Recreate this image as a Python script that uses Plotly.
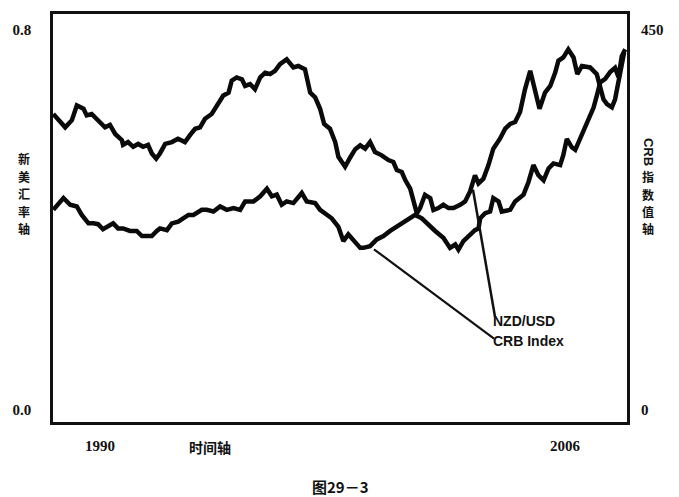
import plotly.graph_objects as go

# ---------------- data ----------------
nzd_years = [1988.39, 1988.56, 1988.80, 1989.03, 1989.20, 1989.43, 1989.54, 1989.71, 1989.89, 1990.17,
             1990.34, 1990.52, 1990.75, 1990.79, 1990.96, 1991.14, 1991.31, 1991.48, 1991.65, 1991.78,
             1991.93, 1992.06, 1992.24, 1992.47, 1992.68, 1992.92, 1993.10, 1993.27, 1993.44, 1993.61,
             1993.84, 1994.07, 1994.24, 1994.42, 1994.53, 1994.70, 1994.88, 1994.99, 1995.16, 1995.33,
             1995.51, 1995.68, 1995.85, 1996.02, 1996.19, 1996.42, 1996.65, 1996.82, 1997.05, 1997.23,
             1997.40, 1997.57, 1997.71, 1997.91, 1998.09, 1998.20, 1998.43, 1998.60, 1998.78, 1998.95,
             1999.12, 1999.29, 1999.46, 1999.69, 1999.92, 2000.09, 2000.21, 2000.38, 2000.50, 2000.67,
             2000.78, 2000.90, 2001.01, 2001.18, 2001.36, 2001.47, 2001.64, 2001.81, 2001.99, 2002.16,
             2002.39, 2002.56, 2002.73, 2002.90, 2003.02, 2003.19, 2003.36, 2003.53, 2003.76, 2003.94,
             2004.11, 2004.28, 2004.45, 2004.62, 2004.80, 2004.97, 2005.12, 2005.31, 2005.49, 2005.66,
             2005.77, 2005.94, 2006.11, 2006.29, 2006.42, 2006.58, 2006.86, 2007.09, 2007.21, 2007.32,
             2007.44, 2007.61, 2007.72, 2007.84, 2007.95, 2008.03]
nzd_values = [0.623, 0.610, 0.595, 0.610, 0.641, 0.634, 0.620, 0.623, 0.613, 0.595,
              0.600, 0.581, 0.568, 0.558, 0.564, 0.554, 0.560, 0.554, 0.558, 0.540,
              0.529, 0.540, 0.560, 0.564, 0.571, 0.564, 0.579, 0.592, 0.595, 0.613,
              0.623, 0.648, 0.662, 0.668, 0.693, 0.700, 0.696, 0.682, 0.686, 0.675,
              0.700, 0.710, 0.707, 0.714, 0.728, 0.738, 0.721, 0.724, 0.717, 0.668,
              0.658, 0.634, 0.602, 0.592, 0.564, 0.533, 0.512, 0.531, 0.549, 0.557,
              0.550, 0.564, 0.543, 0.536, 0.526, 0.522, 0.505, 0.501, 0.484, 0.466,
              0.439, 0.414, 0.425, 0.453, 0.446, 0.421, 0.425, 0.432, 0.425, 0.425,
              0.432, 0.439, 0.460, 0.494, 0.477, 0.487, 0.515, 0.550, 0.571, 0.592,
              0.602, 0.606, 0.627, 0.675, 0.714, 0.672, 0.634, 0.668, 0.682, 0.710,
              0.735, 0.742, 0.759, 0.742, 0.707, 0.724, 0.721, 0.707, 0.682, 0.654,
              0.644, 0.637, 0.654, 0.689, 0.724, 0.752]

crb_years = [1988.39, 1988.74, 1988.97, 1989.20, 1989.37, 1989.60, 1989.77, 1989.93, 1990.10, 1990.28,
             1990.45, 1990.62, 1990.79, 1991.03, 1991.26, 1991.44, 1991.61, 1991.78, 1991.95, 1992.06,
             1992.30, 1992.47, 1992.69, 1992.87, 1993.04, 1993.21, 1993.50, 1993.67, 1993.90, 1994.13,
             1994.36, 1994.59, 1994.82, 1994.99, 1995.28, 1995.51, 1995.74, 1995.91, 1996.08, 1996.25,
             1996.42, 1996.65, 1996.94, 1997.11, 1997.40, 1997.57, 1997.74, 1997.97, 1998.20, 1998.37,
             1998.54, 1998.78, 1998.95, 1999.06, 1999.29, 1999.52, 1999.75, 1999.98, 2000.21, 2000.44,
             2000.61, 2000.84, 2001.07, 2001.30, 2001.53, 2001.81, 2002.04, 2002.22, 2002.33, 2002.50,
             2002.67, 2002.90, 2003.02, 2003.08, 2003.25, 2003.42, 2003.53, 2003.71, 2003.82, 2004.11,
             2004.28, 2004.57, 2004.74, 2004.91, 2005.08, 2005.26, 2005.43, 2005.60, 2005.83, 2005.94,
             2006.06, 2006.23, 2006.35, 2006.52, 2006.69, 2006.86, 2006.98, 2007.09, 2007.21, 2007.38,
             2007.55, 2007.72, 2007.84, 2007.95, 2008.07]
crb_values = [237, 251, 243, 241, 231, 221, 221, 220, 214, 217,
              221, 215, 215, 212, 212, 206, 206, 206, 212, 215,
              213, 221, 223, 227, 231, 231, 237, 237, 235, 241,
              237, 239, 237, 247, 247, 253, 262, 253, 255, 243,
              247, 245, 257, 247, 245, 237, 233, 227, 217, 200,
              208, 198, 192, 192, 194, 202, 206, 212, 217, 223,
              227, 231, 227, 219, 212, 204, 192, 196, 190, 200,
              206, 213, 215, 227, 233, 235, 251, 247, 235, 237,
              247, 255, 270, 290, 278, 272, 286, 292, 290, 302,
              321, 311, 308, 321, 337, 347, 358, 372, 388, 392,
              400, 405, 394, 419, 427]

x_tick_vals = [1990, 2006]
x_tick_text = ["1990", "2006"]
left_tick_vals = [0.0, 0.8]
left_tick_text = ["0.0", "0.8"]
right_tick_vals = [0, 450]
right_tick_text = ["0", "450"]

series_names = ["NZD/USD", "CRB Index"]
left_title = "新美汇率轴"
right_title_latin = "CRB"
right_title_cjk = "指数值轴"
x_title = "时间轴"
caption = "图29－3"

# ---------------- figure ----------------
# The page body has an 8px margin, so the figure is sized to fill the rest of the window.
PAGE_MARGIN = 8
WIN_W, WIN_H = 679, 497
W, H = WIN_W - PAGE_MARGIN, WIN_H - PAGE_MARGIN
# plot-area edges in window pixels
L, R, T, B = 53, 627, 11, 422

def px(x):
    return (x - L) / (R - L)

def py(y):
    return (B - y) / (B - T)

serif_bold = dict(family="Liberation Serif, Times New Roman, serif", size=15, color="#111", weight="bold")
cjk_bold = dict(family="Noto Sans CJK SC", size=12, color="#111", weight="bold")

fig = go.Figure()
fig.add_trace(go.Scatter(x=nzd_years, y=nzd_values, mode="lines", name=series_names[0],
                         line=dict(color="#0a0a0a", width=4.5), yaxis="y"))
fig.add_trace(go.Scatter(x=crb_years, y=crb_values, mode="lines", name=series_names[1],
                         line=dict(color="#0a0a0a", width=4.5), yaxis="y2"))

fig.update_layout(
    width=W, height=H,
    margin=dict(l=L - PAGE_MARGIN, r=WIN_W - R, t=T - PAGE_MARGIN, b=WIN_H - B),
    paper_bgcolor="white", plot_bgcolor="white",
    showlegend=False,
    xaxis=dict(range=[1988.38, 2008.13], tickvals=x_tick_vals, ticktext=x_tick_text,
               showgrid=False, zeroline=False, showline=True, mirror=True,
               linecolor="#111", linewidth=2.5, ticks="", tickfont=serif_bold,
               ticklabelstandoff=8),
    yaxis=dict(range=[-0.025, 0.8334], tickvals=left_tick_vals, ticktext=left_tick_text,
               showgrid=False, zeroline=False, showline=True, mirror=True,
               linecolor="#111", linewidth=2.5, ticks="", tickfont=serif_bold,
               ticklabelstandoff=16),
    yaxis2=dict(range=[-14.1, 468.8], tickvals=right_tick_vals, ticktext=right_tick_text,
                overlaying="y", side="right", showgrid=False, zeroline=False,
                showline=False, ticks="", tickfont=serif_bold, ticklabelstandoff=13),
)

# pointer lines
fig.add_shape(type="line", xref="paper", yref="paper",
              x0=px(473), y0=py(188), x1=px(495), y1=py(316),
              line=dict(color="#111", width=2.5))
fig.add_shape(type="line", xref="paper", yref="paper",
              x0=px(374), y0=py(248), x1=px(494), y1=py(338),
              line=dict(color="#111", width=2.2))

label_font = dict(family="Liberation Sans, Arial, sans-serif", size=14, color="#111", weight="bold")
fig.add_annotation(x=px(491), y=py(320), xref="paper", yref="paper", text=series_names[0],
                   showarrow=False, xanchor="left", yanchor="middle", font=label_font)
fig.add_annotation(x=px(491), y=py(340), xref="paper", yref="paper", text=series_names[1],
                   showarrow=False, xanchor="left", yanchor="middle", font=label_font)

# left vertical title, stacked upright characters
CH_STEP = 17.5
for i, ch in enumerate(left_title):
    fig.add_annotation(x=px(24), y=py(157 + i * CH_STEP), xref="paper", yref="paper", text=ch,
                       showarrow=False, xanchor="center", yanchor="middle", font=cjk_bold,
                       borderpad=0)

# right title: rotated latin + stacked upright CJK
fig.add_annotation(x=px(648), y=py(150), xref="paper", yref="paper", text=right_title_latin,
                   textangle=90, showarrow=False, xanchor="center", yanchor="middle", borderpad=0,
                   font=dict(family="Liberation Sans, Arial, sans-serif", size=13, color="#111", weight="bold"))
for i, ch in enumerate(right_title_cjk):
    fig.add_annotation(x=px(648), y=py(175 + i * CH_STEP), xref="paper", yref="paper", text=ch,
                       showarrow=False, xanchor="center", yanchor="middle", font=cjk_bold,
                       borderpad=0)

# x axis title and caption
fig.add_annotation(x=px(210), y=py(447), xref="paper", yref="paper", text=x_title,
                   showarrow=False, xanchor="center", yanchor="middle",
                   font=dict(family="Noto Sans CJK SC", size=14, color="#111", weight="bold"))
fig.add_annotation(x=px(340), y=py(487), xref="paper", yref="paper", text=caption,
                   showarrow=False, xanchor="center", yanchor="middle",
                   font=dict(family="Noto Sans CJK SC", size=15, color="#111", weight="bold"))

fig.write_html("out.html")
